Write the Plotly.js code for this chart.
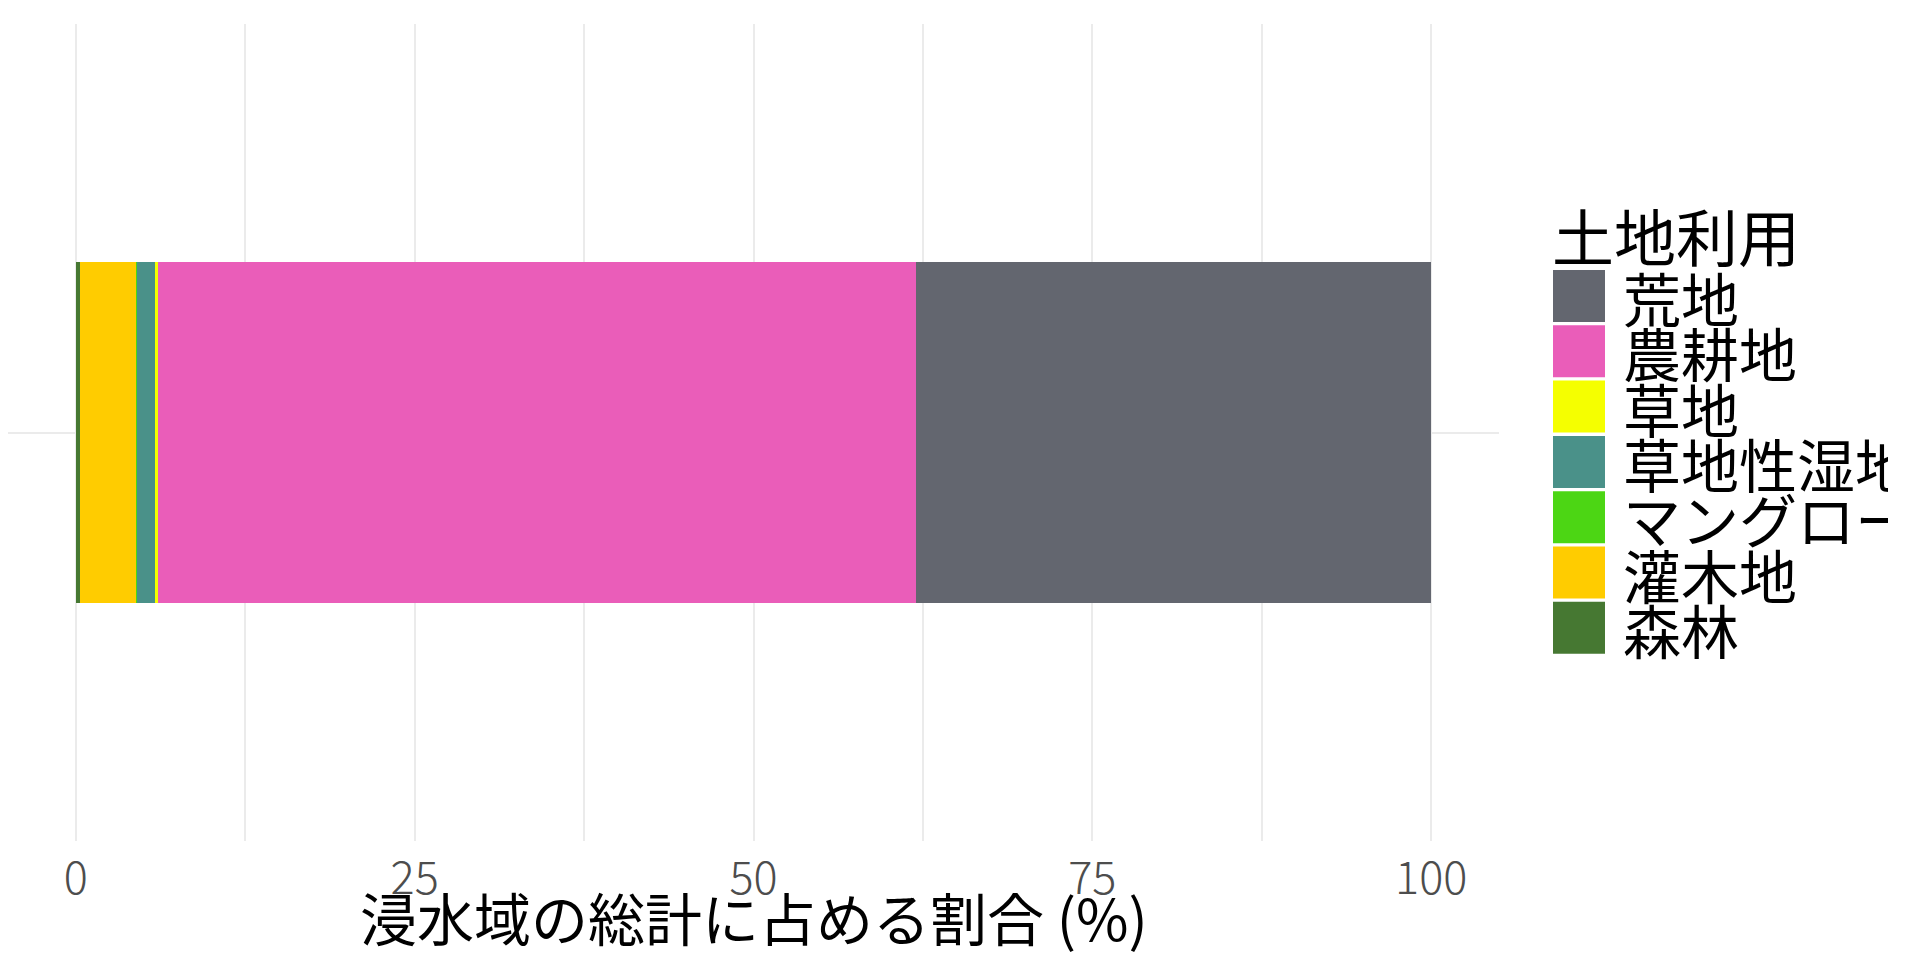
<!DOCTYPE html>
<html>
<head>
<meta charset="utf-8">
<script src="https://cdn.plot.ly/plotly-3.0.1.min.js"></script>
<style>
  html, body { margin: 0; padding: 0; background: #ffffff; }
  #chart { width: 1888px; height: 968px; }
</style>
</head>
<body>
<div id="chart"></div>
<script>
// Land-use categories (legend order, top to bottom)
const categories = ['荒地', '農耕地', '草地', '草地性湿地', 'マングローブ', '灌木地', '森林'];
// Share of total flooded area (%)
const shares = [38.0, 55.96, 0.18, 1.36, 0.02, 4.18, 0.30];
const colors = ['#63666F', '#EA5DB9', '#F5FF00', '#4A9189', '#4CD614', '#FFCC00', '#467832'];
const tickValues = [0, 25, 50, 75, 100];
const tickLabels = ['0', '25', '50', '75', '100'];
const legendTitle = '土地利用';
const xTitle = '浸水域の総計に占める割合 (%)';

const FONT = '"Noto Sans CJK JP", "Noto Sans", sans-serif';
const W = 1888, H = 968;
const M = { l: 8, r: 389, t: 24, b: 127 };
const PW = W - M.l - M.r, PH = H - M.t - M.b;
const px = X => (X - M.l) / PW;
const py = Y => 1 - (Y - M.t) / PH;

// stack from left: last legend entry first
const traces = [];
for (let i = categories.length - 1; i >= 0; i--) {
  traces.push({
    type: 'bar',
    orientation: 'h',
    name: categories[i],
    x: [shares[i]],
    y: [0],
    width: 0.5,
    marker: { color: colors[i], line: { width: 0 } },
    showlegend: false,
    hovertemplate: categories[i] + ': %{x:.2f}%<extra></extra>'
  });
}

const shapes = [];
const annotations = [];

// x-axis title (placed as text below the tick labels, overlapping them slightly as in the reference)
annotations.push({
  xref: 'paper', yref: 'paper', x: 0.5, y: py(916),
  xanchor: 'center', yanchor: 'middle', showarrow: false,
  text: xTitle, font: { family: FONT, size: 57, color: '#000000' }
});

// custom legend (large keys like the reference)
annotations.push({
  xref: 'paper', yref: 'paper', x: px(1550), y: py(235),
  xanchor: 'left', yanchor: 'middle', showarrow: false,
  text: legendTitle, font: { family: FONT, size: 62, color: '#000000' }
});
const keyTop0 = 270, keyPitch = 55.3, keySize = 52;
categories.forEach((c, i) => {
  const top = keyTop0 + i * keyPitch;
  shapes.push({
    type: 'rect', xref: 'paper', yref: 'paper',
    x0: px(1553), x1: px(1553 + keySize),
    y0: py(top + keySize), y1: py(top),
    fillcolor: colors[i], line: { width: 0 }, layer: 'above'
  });
  annotations.push({
    xref: 'paper', yref: 'paper', x: px(1621), y: py(top + keySize / 2 + 1),
    xanchor: 'left', yanchor: 'middle', showarrow: false,
    text: c, font: { family: FONT, size: 58, color: '#000000' }
  });
});

const layout = {
  width: W, height: H,
  margin: { l: M.l, r: M.r, t: M.t, b: M.b, autoexpand: false },
  paper_bgcolor: '#ffffff', plot_bgcolor: '#ffffff',
  barmode: 'stack',
  bargap: 0,
  showlegend: false,
  font: { family: FONT },
  xaxis: {
    range: [-5, 105],
    tickmode: 'array', tickvals: tickValues, ticktext: tickLabels,
    showgrid: true, gridcolor: '#EBEBEB', gridwidth: 2.2,
    minor: { tickmode: 'linear', tick0: 0, dtick: 12.5, showgrid: true, gridcolor: '#EBEBEB', gridwidth: 2 },
    zeroline: false, showline: false, ticks: '',
    ticklabelstandoff: 7,
    tickfont: { family: FONT, size: 45, color: '#4D4D4D', weight: 300 },
    automargin: false, fixedrange: true
  },
  yaxis: {
    range: [-0.6, 0.6],
    tickmode: 'array', tickvals: [0], showticklabels: false,
    showgrid: true, gridcolor: '#EBEBEB', gridwidth: 2.2,
    zeroline: false, showline: false, ticks: '',
    automargin: false, fixedrange: true
  },
  shapes: shapes,
  annotations: annotations
};

Plotly.newPlot('chart', traces, layout, { displayModeBar: false, responsive: false });
</script>
</body>
</html>
